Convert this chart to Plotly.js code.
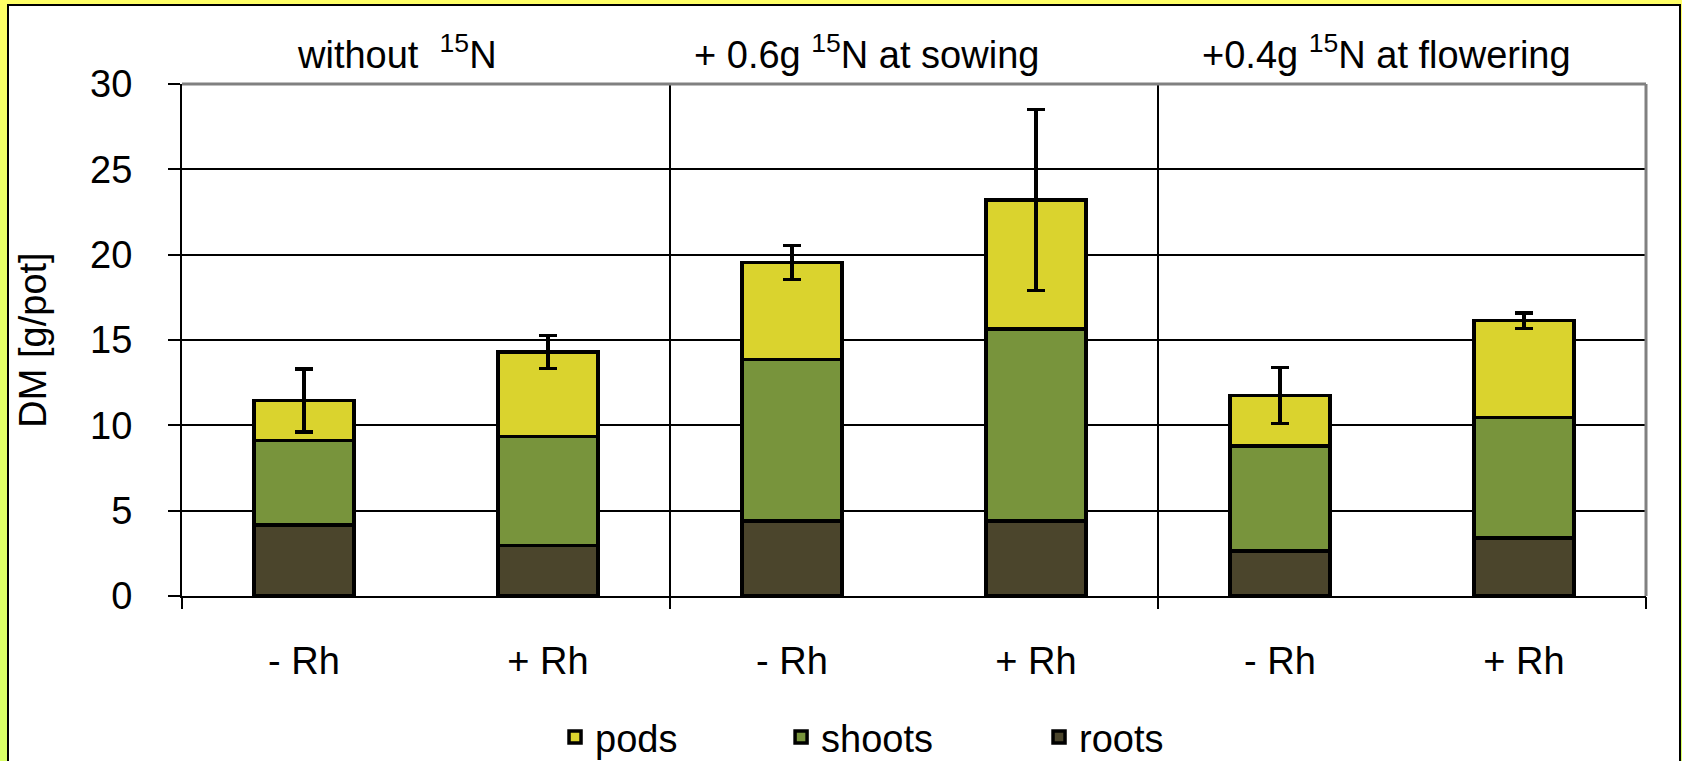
<!DOCTYPE html>
<html><head><meta charset="utf-8">
<script src="https://cdn.plot.ly/plotly-3.0.1.min.js"></script>
<style>
html,body{margin:0;padding:0;width:1682px;height:761px;overflow:hidden;
  background:linear-gradient(to bottom,#FFFF66 0%,#E8FF66 30%,#D8FF66 100%);}
#frame{position:absolute;left:7px;top:4px;width:1670px;height:800px;border:2px solid #000;background:#fff;}
#chart{width:1670px;height:757px;}
</style></head>
<body><div id="frame"><div id="chart"></div></div>
<script>
// ---- data ----
const groups = ['without  <sup>15</sup>N', '+ 0.6g <sup>15</sup>N at sowing', '+0.4g <sup>15</sup>N at flowering'];
const treatments = ['- Rh', '+ Rh', '- Rh', '+ Rh', '- Rh', '+ Rh'];
const roots  = [4.15, 2.95, 4.4, 4.4, 2.65, 3.4];
const shoots = [4.95, 6.4, 9.45, 11.25, 6.15, 7.05];
const pods   = [2.35, 4.95, 5.7, 7.55, 2.95, 5.68];
const podsErr = [1.85, 0.97, 1.0, 5.3, 1.63, 0.45];
const yTicks = [0, 5, 10, 15, 20, 25, 30];

// ---- style-only settings ----
const headerShift = [-29, -48, -16];   // header text offsets (px), as in the reference
const FONT = 'Arial, "Liberation Sans", sans-serif';
const FS = 38;
const outline = {color: '#000000', width: 3.5};

// ---- derived positions from categories ----
const xIdx = treatments.map((_, i) => i);
const perGroup = treatments.length / groups.length;
const boundaries = [];
for (let g = 0; g <= groups.length; g++) boundaries.push(g * perGroup - 0.5);
const groupCenters = groups.map((_, g) => g * perGroup + (perGroup - 1) / 2);

const traces = [
  {type: 'bar', name: 'roots', x: xIdx, y: roots, legend: 'legend3',
   marker: {color: '#4B452C', line: outline}, hoverinfo: 'y+name'},
  {type: 'bar', name: 'shoots', x: xIdx, y: shoots, legend: 'legend2',
   marker: {color: '#78943C', line: outline}, hoverinfo: 'y+name'},
  {type: 'bar', name: 'pods', x: xIdx, y: pods, legend: 'legend',
   marker: {color: '#DAD32E', line: outline}, hoverinfo: 'y+name',
   error_y: {type: 'data', array: podsErr, visible: true, color: '#000000', thickness: 3.5, width: 9}},
  {type: 'scatter', mode: 'none', x: boundaries, y: boundaries.map(() => null),
   xaxis: 'x2', showlegend: false, hoverinfo: 'skip'}
];

const legendBase = {orientation: 'v', yref: 'container', yanchor: 'middle', xanchor: 'left', y: 0.034,
  font: {family: FONT, size: FS, color: '#000'}, bgcolor: 'rgba(0,0,0,0)', borderwidth: 0};

const layout = {
  width: 1670, height: 757,
  margin: {l: 173, r: 33, t: 78, b: 167, autoexpand: false},
  paper_bgcolor: '#FFFFFF', plot_bgcolor: '#FFFFFF',
  font: {family: FONT, size: FS, color: '#000'},
  barmode: 'stack', bargap: 0.59,
  xaxis: {range: [boundaries[0], boundaries[boundaries.length - 1]],
    tickmode: 'array', tickvals: xIdx, ticktext: treatments, ticks: '',
    showgrid: false, zeroline: false, showline: true, linecolor: '#000', linewidth: 2,
    tickfont: {family: FONT, size: FS, color: '#000'}, ticklabelstandoff: 30, fixedrange: true},
  xaxis2: {overlaying: 'x', anchor: 'y', side: 'bottom',
    range: [boundaries[0], boundaries[boundaries.length - 1]],
    tickmode: 'array', tickvals: boundaries, showticklabels: false,
    ticks: 'outside', ticklen: 12, tickwidth: 2, tickcolor: '#000',
    showgrid: true, gridcolor: '#000', gridwidth: 2, zeroline: false, showline: false},
  yaxis: {range: [0, 30], tickmode: 'array', tickvals: yTicks,
    ticks: 'outside', ticklen: 12, tickwidth: 2, tickcolor: '#000',
    showgrid: true, gridcolor: '#000', gridwidth: 2, zeroline: false,
    showline: true, linecolor: '#000', linewidth: 2,
    tickfont: {family: FONT, size: FS, color: '#000'}, ticklabelstandoff: 28,
    title: {text: 'DM [g/pot]', font: {family: FONT, size: FS, color: '#000'}, standoff: 32},
    automargin: false},
  legend: Object.assign({}, legendBase, {x: 0.2548}),
  legend2: Object.assign({}, legendBase, {x: 0.4092}),
  legend3: Object.assign({}, legendBase, {x: 0.5854}),
  annotations: groups.map((g, i) => ({
    text: g, x: groupCenters[i], xref: 'x', y: 1.062, yref: 'paper', xshift: headerShift[i],
    xanchor: 'center', yanchor: 'middle', showarrow: false,
    font: {family: FONT, size: FS, color: '#000'}})),
  shapes: [
    {type: 'line', xref: 'paper', yref: 'paper', x0: 0, x1: 1, y0: 1, y1: 1,
     line: {color: '#808080', width: 3}, layer: 'above'},
    {type: 'line', xref: 'paper', yref: 'paper', x0: 1, x1: 1, y0: 0, y1: 1,
     line: {color: '#808080', width: 3}, layer: 'above'}
  ]
};

Plotly.newPlot('chart', traces, layout, {displayModeBar: false, staticPlot: true});
</script>
</body></html>
